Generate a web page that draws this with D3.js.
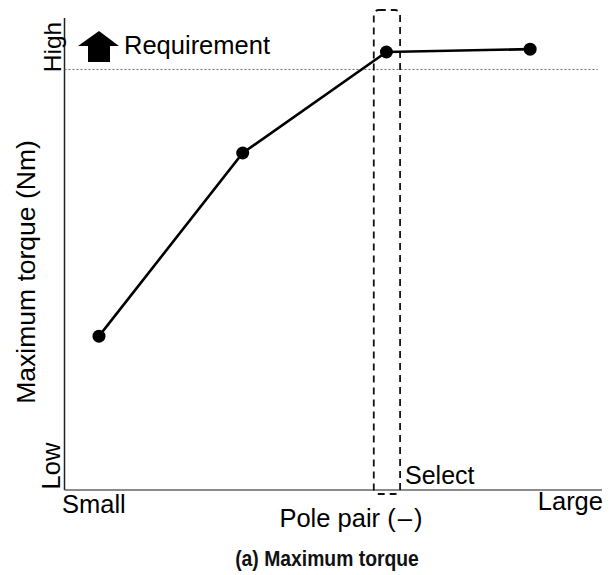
<!DOCTYPE html>
<html><head><meta charset="utf-8">
<script src="https://cdn.jsdelivr.net/npm/d3@7/dist/d3.min.js"></script>
<style>body{margin:0;background:#fff}svg{display:block}</style>
</head><body>
<script>
// Data (relative scale: 0 = Low, 100 = High)
const polePairLevels = [1, 2, 3, 4];
const maxTorque = [32.6, 71.4, 92.8, 93.4];
const requirement = 89.1;
const selectedLevel = 3;
const xTickLabels = ["Small", "Large"];
const yTickLabels = ["Low", "High"];

const W = 614, H = 575;
const svg = d3.select("body").append("svg").attr("width", W).attr("height", H);
const font = "'Liberation Sans', Arial, sans-serif";

const x = d3.scaleLinear().domain([0.76, 4.5]).range([64.5, 602]);
const y = d3.scaleLinear().domain([0, 100]).range([490, 18]);

// axes
svg.append("line").attr("x1", x(0.76)).attr("x2", x(0.76)).attr("y1", y(100)).attr("y2", y(0))
  .attr("stroke", "#222").attr("stroke-width", 1.5);
svg.append("line").attr("x1", x(0.76)).attr("x2", x(4.5)).attr("y1", y(0)).attr("y2", y(0))
  .attr("stroke", "#666").attr("stroke-width", 1.5);

// requirement dotted line
svg.append("line").attr("x1", x(0.76)).attr("x2", x(4.47)).attr("y1", y(requirement)).attr("y2", y(requirement))
  .attr("stroke", "#666").attr("stroke-width", 1).attr("stroke-dasharray", "2,2");

// select dashed box
const bx0 = x(selectedLevel - 0.088), bx1 = x(selectedLevel + 0.095);
svg.append("rect").attr("x", bx0).attr("y", 10).attr("width", bx1 - bx0).attr("height", y(0) + 4 - 10)
  .attr("rx", 5).attr("ry", 5).attr("fill", "none").attr("stroke", "#111")
  .attr("stroke-width", 1.8).attr("stroke-dasharray", "7,5");

// line + points
const pts = polePairLevels.map((p, i) => [p, maxTorque[i]]);
svg.append("path").datum(pts)
  .attr("d", d3.line().x(d => x(d[0])).y(d => y(d[1])))
  .attr("fill", "none").attr("stroke", "#000").attr("stroke-width", 2.6);
svg.selectAll("circle.pt").data(pts).join("circle")
  .attr("cx", d => x(d[0])).attr("cy", d => y(d[1])).attr("r", 6.5).attr("fill", "#000");

// arrow icon
svg.append("path").attr("d", "M99,31 L119,46 L110,46 L110,62 L88,62 L88,46 L78,46 Z").attr("fill", "#000");
svg.append("text").attr("x", 124).attr("y", 54).attr("font-family", font).attr("font-size", 25.5)
  .attr("fill", "#000").text("Requirement");

// tick labels
svg.append("text").attr("transform", "translate(61,47) rotate(-90)").attr("text-anchor", "middle")
  .attr("font-family", font).attr("font-size", 24.5).text(yTickLabels[1]);
svg.append("text").attr("transform", "translate(60,466) rotate(-90)").attr("text-anchor", "middle")
  .attr("font-family", font).attr("font-size", 25.5).text(yTickLabels[0]);
svg.append("text").attr("x", 62).attr("y", 513).attr("font-family", font).attr("font-size", 25.5).text(xTickLabels[0]);
svg.append("text").attr("x", 603).attr("y", 510).attr("text-anchor", "end").attr("font-family", font).attr("font-size", 25.5).text(xTickLabels[1]);

// axis titles
svg.append("text").attr("transform", "translate(35,272) rotate(-90)").attr("text-anchor", "middle")
  .attr("font-family", font).attr("font-size", 26.5).text("Maximum torque (Nm)");
svg.append("text").attr("x", 351).attr("y", 527).attr("text-anchor", "middle")
  .attr("font-family", font).attr("font-size", 25.5).text("Pole pair (\u200a\u2013\u200a)");

svg.append("text").attr("x", 405).attr("y", 484).attr("font-family", font).attr("font-size", 25).text("Select");

// caption
svg.append("text").attr("transform", "translate(327,566) scale(0.86,1)").attr("text-anchor", "middle")
  .attr("font-family", font).attr("font-weight", "bold").attr("fill", "#111")
  .attr("font-size", 22.5).text("(a) Maximum torque");
</script>
</body></html>
